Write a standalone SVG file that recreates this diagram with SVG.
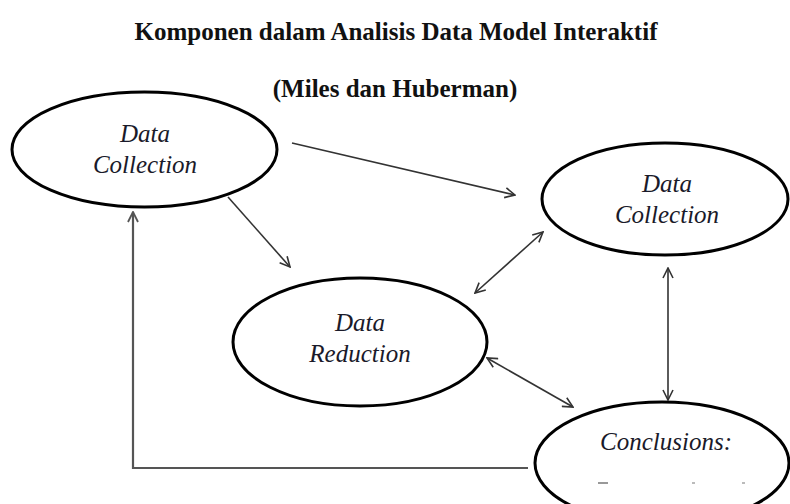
<svg xmlns="http://www.w3.org/2000/svg" width="790" height="504" viewBox="0 0 790 504">
  <style>
    .title { font-family: "Liberation Serif", "Times New Roman", serif; font-weight: bold; font-size: 25px; fill: #111; text-anchor: middle; }
    .node ellipse { fill: #fff; stroke: #000; stroke-width: 3; }
    .label { font-family: "Liberation Serif", "Times New Roman", serif; font-style: italic; font-size: 25px; fill: #1a1a2a; text-anchor: middle; }
    .edge { fill: none; stroke: #333; stroke-width: 1.6; }
    .loop { fill: none; stroke: #555; stroke-width: 2.2; }
  </style>
  <defs>
    <marker id="head" viewBox="0 0 12 12" refX="11" refY="6" markerWidth="12" markerHeight="12" markerUnits="userSpaceOnUse" orient="auto-start-reverse">
      <path d="M1,1 L11,6 L1,11" fill="none" stroke="#333" stroke-width="1.6"/>
    </marker>
    <marker id="headGray" viewBox="0 0 12 12" refX="11" refY="6" markerWidth="12" markerHeight="12" markerUnits="userSpaceOnUse" orient="auto">
      <path d="M1,1 L11,6 L1,11" fill="none" stroke="#555" stroke-width="1.8"/>
    </marker>
  </defs>

  <text class="title" x="396" y="40">Komponen dalam Analisis Data Model Interaktif</text>
  <text class="title" x="395" y="97">(Miles dan Huberman)</text>

  <g id="connectors">
    <line class="edge" x1="292" y1="143" x2="515" y2="195" marker-end="url(#head)"/>
    <line class="edge" x1="228" y1="197" x2="290" y2="267" marker-end="url(#head)"/>
    <line class="edge" x1="475" y1="293" x2="543" y2="232" marker-start="url(#head)" marker-end="url(#head)"/>
    <line class="edge" x1="668" y1="268" x2="668" y2="400" marker-start="url(#head)" marker-end="url(#head)"/>
    <line class="edge" x1="487" y1="358" x2="573" y2="407" marker-start="url(#head)" marker-end="url(#head)"/>
    <polyline class="loop" points="528,468 133,468 133,212" marker-end="url(#headGray)"/>
  </g>

  <g id="node-collection-1" class="node">
    <ellipse cx="144.5" cy="149.5" rx="132.5" ry="57.5"/>
    <text class="label" x="145" y="142">Data</text>
    <text class="label" x="145" y="173">Collection</text>
  </g>

  <g id="node-collection-2" class="node">
    <ellipse cx="665" cy="199" rx="123" ry="56"/>
    <text class="label" x="667" y="192">Data</text>
    <text class="label" x="667" y="223">Collection</text>
  </g>

  <g id="node-reduction" class="node">
    <ellipse cx="360" cy="342" rx="127" ry="64"/>
    <text class="label" x="360" y="331">Data</text>
    <text class="label" x="360" y="362">Reduction</text>
  </g>

  <g id="node-conclusions" class="node">
    <ellipse cx="662" cy="463" rx="127" ry="61"/>
    <text class="label" x="666" y="450">Conclusions:</text>
    <!-- clipped remnants of the second line -->
    <rect x="598" y="482" width="10" height="2" fill="#999"/>
    <rect x="692" y="482" width="3" height="2" fill="#bbb"/>
    <rect x="742" y="482" width="3" height="2" fill="#bbb"/>
  </g>
</svg>
